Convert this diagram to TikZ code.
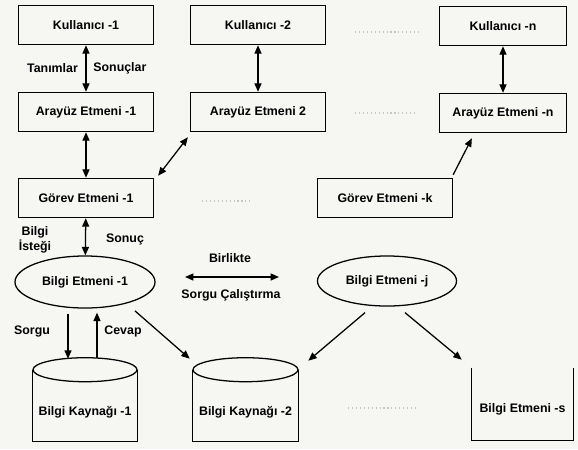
\documentclass[tikz,border=0pt]{standalone}
\usepackage{fontspec}
\setmainfont{Liberation Sans}
\usetikzlibrary{arrows.meta,shapes.geometric,positioning,calc}

\newcommand{\yazi}{\bfseries\fontsize{8.8}{10.5}\selectfont}

\tikzset{
  kutu/.style={draw, line width=0.9pt, rectangle, minimum width=3.375cm, minimum height=0.98cm},
  etmen/.style={draw, line width=0.9pt, ellipse, minimum width=3.5cm, minimum height=1.3cm, inner sep=0pt},
  kaynak/.style={minimum width=2.6cm, minimum height=2.075cm, text height=0.86cm, text depth=0.06cm},
  ok/.style={-{Triangle[length=6pt,width=5pt]}, line width=0.9pt},
  ciftok/.style={{Triangle[length=6pt,width=5pt]}-{Triangle[length=6pt,width=5pt]}, line width=0.9pt},
  bosluk/.style={gray!45, dotted, line width=0.8pt}
}

\begin{document}
\begin{tikzpicture}[x=0.025cm, y=-0.025cm, every node/.style={font=\yazi}]
  % background, size of the scan
  \filldraw[fill={rgb,255:red,246;green,247;blue,243}, draw=none] (0,0) rectangle (578,449);
  \useasboundingbox (0,0) rectangle (578,449);

  % users
  \node[kutu] (k1) at (86,25) {Kullanıcı -1};
  \node[kutu] (k2) at (258,25) {Kullanıcı -2};
  \node[kutu, minimum width=3.175cm] (kn) at (503,26) {Kullanıcı -n};

  % interface agents
  \node[kutu] (a1) at (86,112) {Arayüz Etmeni -1};
  \node[kutu] (a2) at (258,112) {Arayüz Etmeni 2};
  \node[kutu, minimum width=3.175cm] (an) at (503,113) {Arayüz Etmeni -n};

  % task agents
  \node[kutu] (g1) at (86,198) {Görev Etmeni -1};
  \node[kutu] (gk) at (385,198) {Görev Etmeni -k};

  % information agents
  \node[etmen] (be1) at (85,282) {Bilgi Etmeni -1};
  \node[etmen, minimum width=3.475cm, minimum height=1.25cm] (bej) at (387,281) {Bilgi Etmeni -j};

  % information sources, cylinders with a flat bottom
  \node[kaynak] (bk1) at (85,399.5) {Bilgi Kaynağı -1};
  \draw[line width=0.9pt] ($(bk1.north west)+(0,12)$) -- (bk1.south west) -- (bk1.south east) -- ($(bk1.north east)+(0,12)$);
  \draw[line width=0.9pt] ($(bk1.north)+(0,12)$) ellipse [x radius=1.3cm, y radius=0.3cm];

  \node[kaynak, minimum width=2.625cm] (bk2) at (245.5,399.5) {Bilgi Kaynağı -2};
  \draw[line width=0.9pt] ($(bk2.north west)+(0,12)$) -- (bk2.south west) -- (bk2.south east) -- ($(bk2.north east)+(0,12)$);
  \draw[line width=0.9pt] ($(bk2.north)+(0,12)$) ellipse [x radius=1.3125cm, y radius=0.3cm];

  % open box, no top line
  \node[minimum width=2.525cm, minimum height=1.8cm, text height=0.48cm, text depth=0.06cm] (bes) at (522.5,404) {Bilgi Etmeni -s};
  \draw[line width=0.9pt] (bes.north west) -- (bes.south west) -- (bes.south east) -- (bes.north east);

  % the ... between the columns
  \draw[bosluk] (355,32) -- (420,32);
  \draw[bosluk] (355,113) -- (418,113);
  \draw[bosluk] (202,201) -- (253,201);
  \draw[bosluk] (348,408) -- (418,408);

  % user <-> interface
  \draw[ciftok] (k1) -- node[left=2pt] {Tanımlar} node[right=1.5pt] {Sonuçlar} (a1);
  \draw[ciftok] (k2) -- (a2);
  \draw[ciftok] (kn) -- (an);

  % interface <-> task
  \draw[ciftok] (a1) -- (g1);
  \draw[ciftok] ($(g1.north east)+(4,-2)$) -- ($(a2.south west)+(-2,5)$);
  \draw[ok] ($(gk.north east)+(0,-3)$) -- ($(an.south west)+(33,5)$);

  % task <-> information agent
  \draw[ciftok] (g1) -- (be1);
  \node[align=center] (istek) at (35,240) {Bilgi\\İsteği};
  \node (sonuc) at (125,239) {Sonuç};

  % cooperation
  \coordinate (bs) at (185,277);
  \coordinate (bb) at (279,277);
  \draw[ciftok] (bs) -- (bb);
  \node (birlikte) at (230,258) {Birlikte};
  \node (calis) at (231,295) {Sorgu Çalıştırma};

  % query and answer
  \draw[ok] ($(be1.south)+(-17,5)$) -- ($(bk1.north)+(-17,1)$);
  \draw[ok] ($(bk1.north)+(12,0)$) -- ($(be1.south)+(12,4)$);
  \node (sorgu) at (32,331) {Sorgu};
  \node (cevap) at (123,331) {Cevap};

  % information agents to sources
  \draw[ok] ($(be1.south east)+(0,10)$) -- ($(bk2.north west)+(-3,1)$);
  \draw[ok] ($(bej.south)+(-22,6)$) -- ($(bk2.north east)+(10,3)$);
  \draw[ok] ($(bej.south)+(18,6)$) -- ($(bes.north west)+(-10,-8)$);
\end{tikzpicture}
\end{document}
